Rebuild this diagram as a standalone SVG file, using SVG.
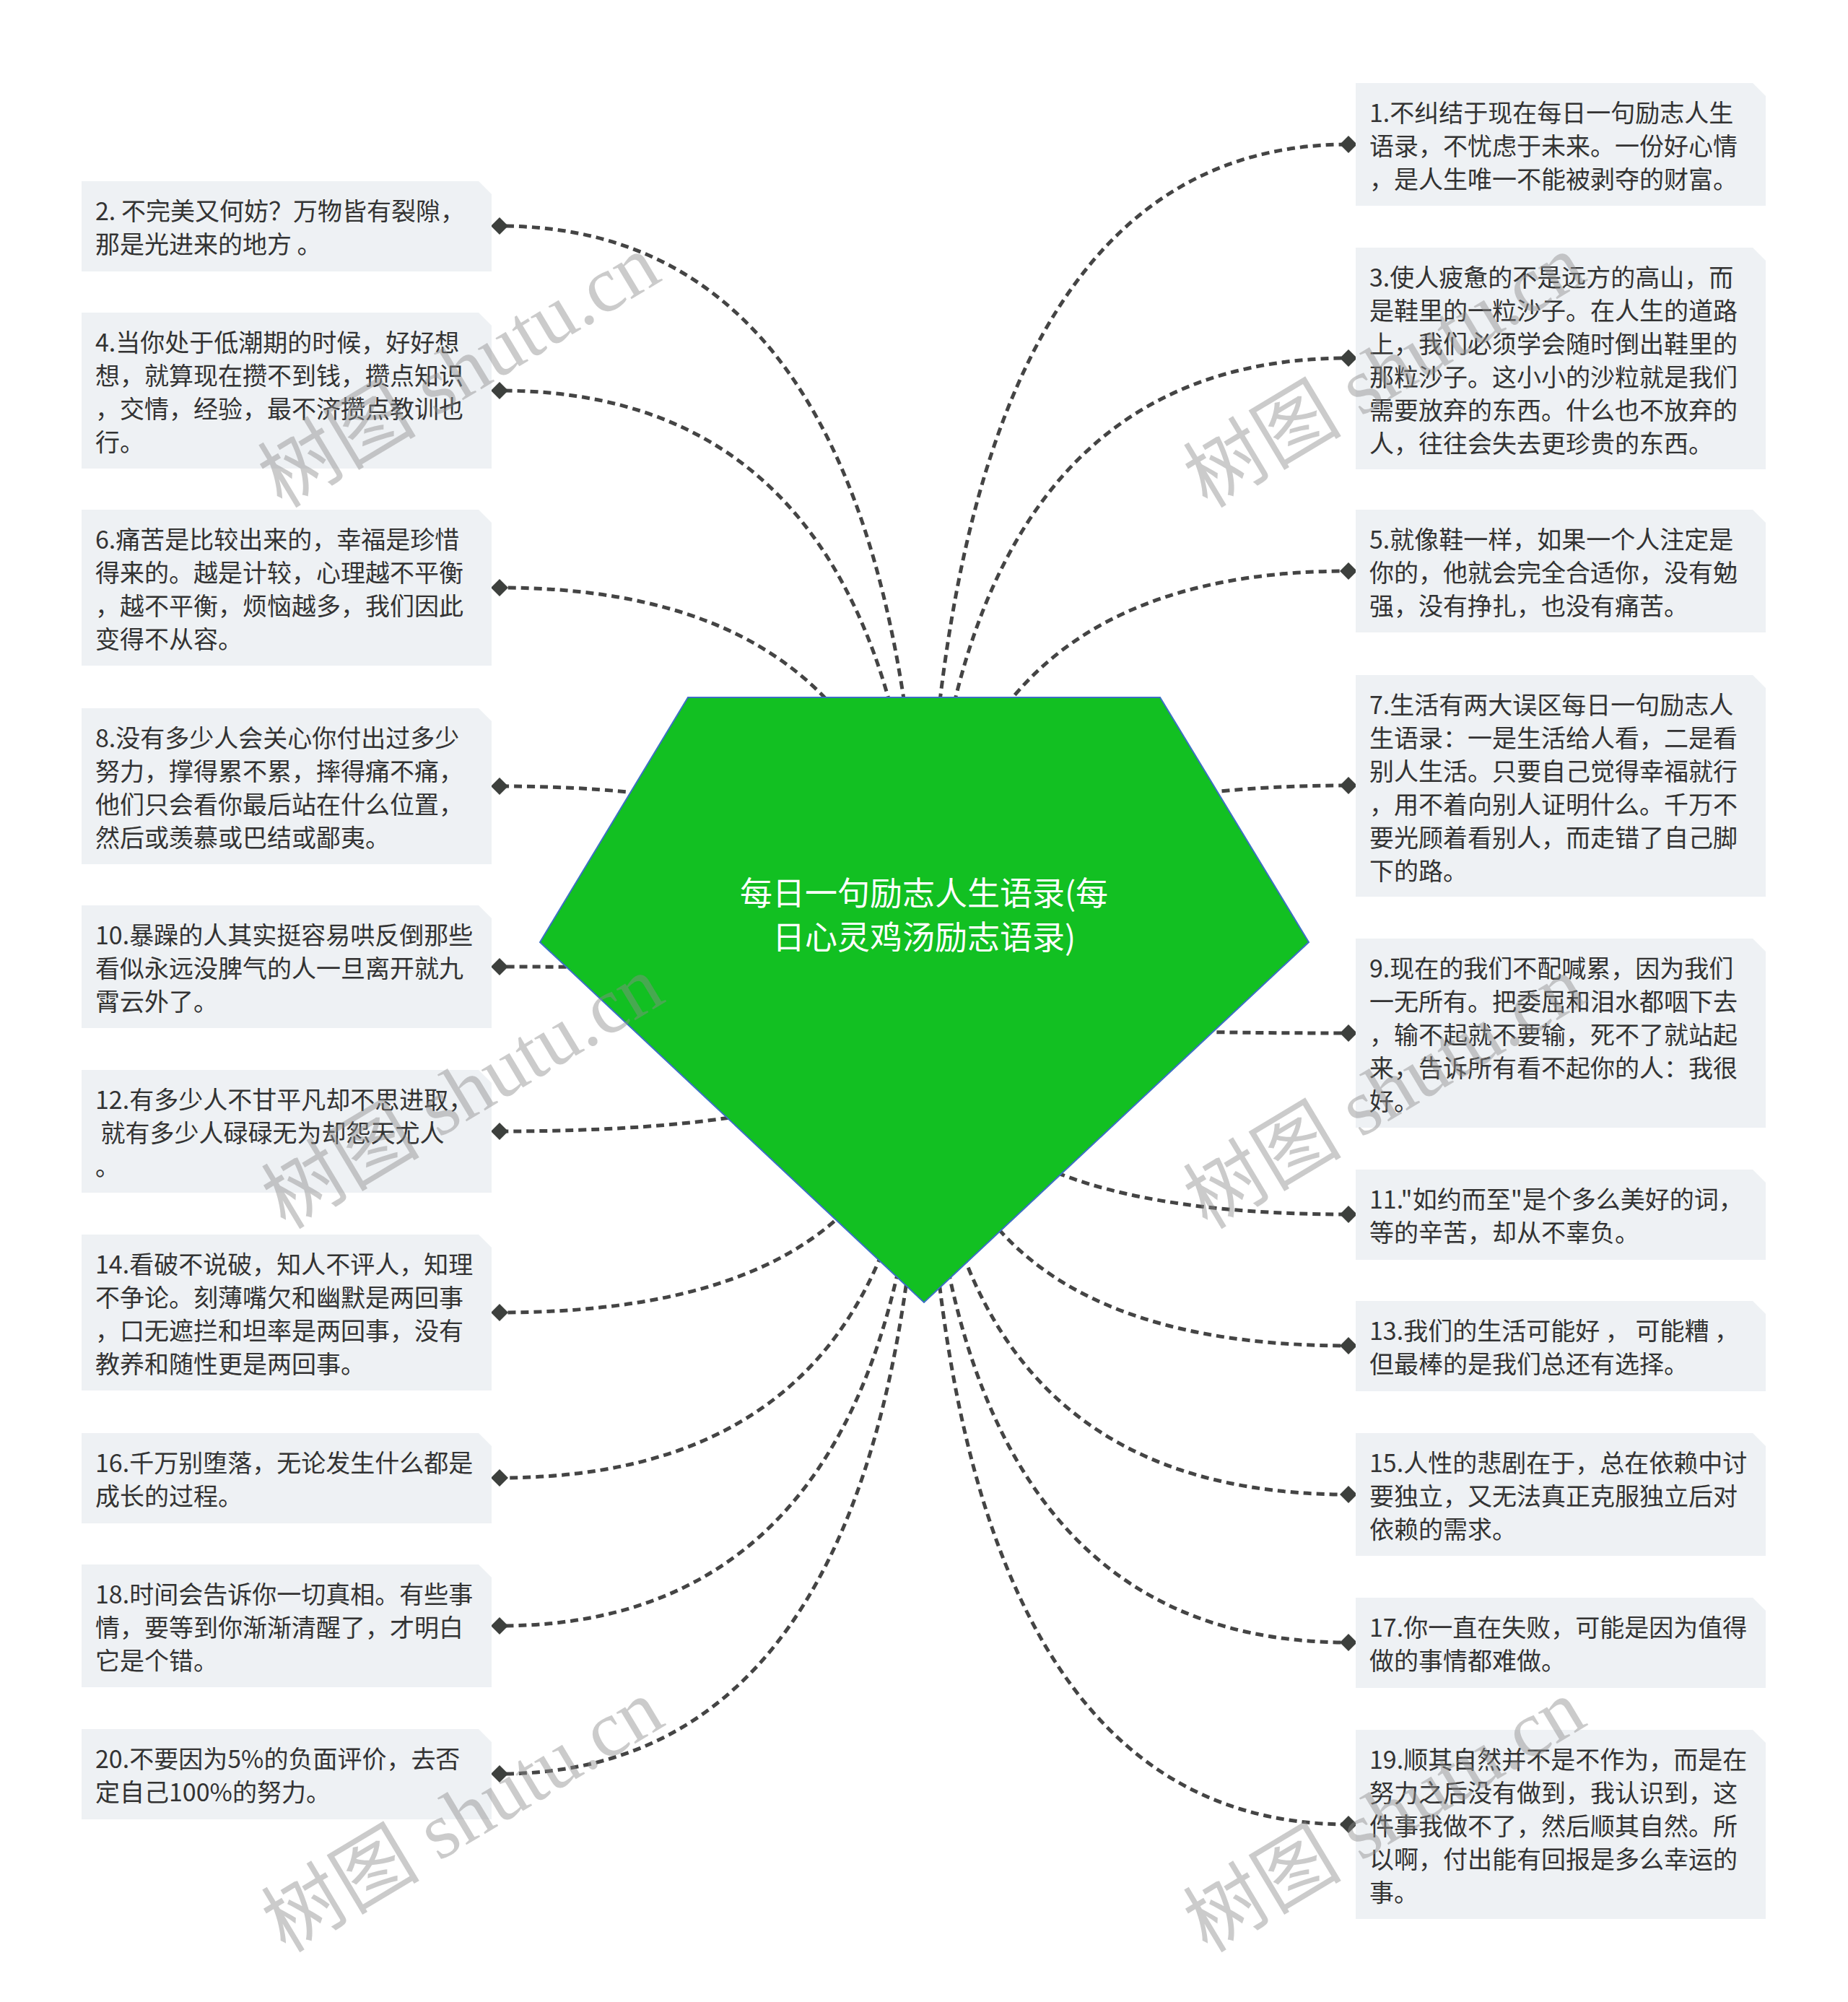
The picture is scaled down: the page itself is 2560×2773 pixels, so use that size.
<svg xmlns="http://www.w3.org/2000/svg" width="2560" height="2773" viewBox="0 0 2560 2773">
<defs>
<style>
.box{fill:#eef1f4}
.t{font-family:"Noto Sans CJK SC","Noto Sans",sans-serif;font-size:34px;fill:#333333}
.link{fill:none;stroke:#444444;stroke-width:5;stroke-dasharray:11 7}
.title{font-family:"Noto Sans CJK SC","Noto Sans",sans-serif;font-size:45px;fill:#ffffff;text-anchor:middle}
.wm{font-family:"Liberation Serif","Noto Sans CJK SC",serif;font-size:110px;fill:#8c8c8c;fill-opacity:0.45;text-anchor:middle}
</style>
<marker id="dia" viewBox="0 0 24 24" refX="12" refY="12" markerWidth="24" markerHeight="24" markerUnits="userSpaceOnUse" orient="auto">
<path d="M0 12 L12 0 L24 12 L12 24 Z" fill="#3d403d"/>
</marker>
</defs>
<rect width="2560" height="2773" fill="#ffffff"/>
<g id="connectors">
<path class="link" marker-end="url(#dia)" d="M1280 1385 Q1280 313 692 313"/>
<path class="link" marker-end="url(#dia)" d="M1280 1385 Q1280 541 692 541"/>
<path class="link" marker-end="url(#dia)" d="M1280 1385 Q1280 814 692 814"/>
<path class="link" marker-end="url(#dia)" d="M1280 1385 Q1280 1089 692 1089"/>
<path class="link" marker-end="url(#dia)" d="M1280 1385 Q1280 1339 692 1339"/>
<path class="link" marker-end="url(#dia)" d="M1280 1385 Q1280 1567 692 1567"/>
<path class="link" marker-end="url(#dia)" d="M1280 1385 Q1280 1818 692 1818"/>
<path class="link" marker-end="url(#dia)" d="M1280 1385 Q1280 2047 692 2047"/>
<path class="link" marker-end="url(#dia)" d="M1280 1385 Q1280 2252 692 2252"/>
<path class="link" marker-end="url(#dia)" d="M1280 1385 Q1280 2457 692 2457"/>
<path class="link" marker-end="url(#dia)" d="M1280 1385 Q1280 200 1868 200"/>
<path class="link" marker-end="url(#dia)" d="M1280 1385 Q1280 496 1868 496"/>
<path class="link" marker-end="url(#dia)" d="M1280 1385 Q1280 791 1868 791"/>
<path class="link" marker-end="url(#dia)" d="M1280 1385 Q1280 1088 1868 1088"/>
<path class="link" marker-end="url(#dia)" d="M1280 1385 Q1280 1431 1868 1431"/>
<path class="link" marker-end="url(#dia)" d="M1280 1385 Q1280 1682 1868 1682"/>
<path class="link" marker-end="url(#dia)" d="M1280 1385 Q1280 1864 1868 1864"/>
<path class="link" marker-end="url(#dia)" d="M1280 1385 Q1280 2070 1868 2070"/>
<path class="link" marker-end="url(#dia)" d="M1280 1385 Q1280 2275 1868 2275"/>
<path class="link" marker-end="url(#dia)" d="M1280 1385 Q1280 2527 1868 2527"/>
</g>
<g id="center">
<polygon points="953,966 1607,966 1813,1305 1280,1804 748,1305" fill="#12c022" stroke="#3b6fc4" stroke-width="2"/>
<text class="title" x="1280" y="1254">每日一句励志人生语录(每</text>
<text class="title" x="1280" y="1315">日心灵鸡汤励志语录)</text>
</g>
<g id="node-2">
<polygon class="box" points="113,251 663,251 681,269 681,376 113,376"/>
<text class="t" x="132" y="305"><tspan x="132">2. 不完美又何妨？万物皆有裂隙，</tspan><tspan x="132" dy="46">那是光进来的地方 。</tspan></text>
</g>
<g id="node-4">
<polygon class="box" points="113,433 663,433 681,451 681,649 113,649"/>
<text class="t" x="132" y="487"><tspan x="132">4.当你处于低潮期的时候，好好想</tspan><tspan x="132" dy="46">想，就算现在攒不到钱，攒点知识</tspan><tspan x="132" dy="46">，交情，经验，最不济攒点教训也</tspan><tspan x="132" dy="46">行。</tspan></text>
</g>
<g id="node-6">
<polygon class="box" points="113,706 663,706 681,724 681,922 113,922"/>
<text class="t" x="132" y="760"><tspan x="132">6.痛苦是比较出来的，幸福是珍惜</tspan><tspan x="132" dy="46">得来的。越是计较，心理越不平衡</tspan><tspan x="132" dy="46">，越不平衡，烦恼越多，我们因此</tspan><tspan x="132" dy="46">变得不从容。</tspan></text>
</g>
<g id="node-8">
<polygon class="box" points="113,981 663,981 681,999 681,1197 113,1197"/>
<text class="t" x="132" y="1035"><tspan x="132">8.没有多少人会关心你付出过多少</tspan><tspan x="132" dy="46">努力，撑得累不累，摔得痛不痛，</tspan><tspan x="132" dy="46">他们只会看你最后站在什么位置，</tspan><tspan x="132" dy="46">然后或羡慕或巴结或鄙夷。</tspan></text>
</g>
<g id="node-10">
<polygon class="box" points="113,1254 663,1254 681,1272 681,1424 113,1424"/>
<text class="t" x="132" y="1308"><tspan x="132">10.暴躁的人其实挺容易哄反倒那些</tspan><tspan x="132" dy="46">看似永远没脾气的人一旦离开就九</tspan><tspan x="132" dy="46">霄云外了。</tspan></text>
</g>
<g id="node-12">
<polygon class="box" points="113,1482 663,1482 681,1500 681,1652 113,1652"/>
<text class="t" x="132" y="1536" xml:space="preserve"><tspan x="132">12.有多少人不甘平凡却不思进取，</tspan><tspan x="132" dy="46"> 就有多少人碌碌无为却怨天尤人</tspan><tspan x="132" dy="46">。</tspan></text>
</g>
<g id="node-14">
<polygon class="box" points="113,1710 663,1710 681,1728 681,1926 113,1926"/>
<text class="t" x="132" y="1764"><tspan x="132">14.看破不说破，知人不评人，知理</tspan><tspan x="132" dy="46">不争论。刻薄嘴欠和幽默是两回事</tspan><tspan x="132" dy="46">，口无遮拦和坦率是两回事，没有</tspan><tspan x="132" dy="46">教养和随性更是两回事。</tspan></text>
</g>
<g id="node-16">
<polygon class="box" points="113,1985 663,1985 681,2003 681,2110 113,2110"/>
<text class="t" x="132" y="2039"><tspan x="132">16.千万别堕落，无论发生什么都是</tspan><tspan x="132" dy="46">成长的过程。</tspan></text>
</g>
<g id="node-18">
<polygon class="box" points="113,2167 663,2167 681,2185 681,2337 113,2337"/>
<text class="t" x="132" y="2221"><tspan x="132">18.时间会告诉你一切真相。有些事</tspan><tspan x="132" dy="46">情，要等到你渐渐清醒了，才明白</tspan><tspan x="132" dy="46">它是个错。</tspan></text>
</g>
<g id="node-20">
<polygon class="box" points="113,2395 663,2395 681,2413 681,2520 113,2520"/>
<text class="t" x="132" y="2449"><tspan x="132">20.不要因为5%的负面评价，去否</tspan><tspan x="132" dy="46">定自己100%的努力。</tspan></text>
</g>
<g id="node-1">
<polygon class="box" points="1878,115 2428,115 2446,133 2446,285 1878,285"/>
<text class="t" x="1897" y="169"><tspan x="1897">1.不纠结于现在每日一句励志人生</tspan><tspan x="1897" dy="46">语录，不忧虑于未来。一份好心情</tspan><tspan x="1897" dy="46">，是人生唯一不能被剥夺的财富。</tspan></text>
</g>
<g id="node-3">
<polygon class="box" points="1878,343 2428,343 2446,361 2446,650 1878,650"/>
<text class="t" x="1897" y="397"><tspan x="1897">3.使人疲惫的不是远方的高山，而</tspan><tspan x="1897" dy="46">是鞋里的一粒沙子。在人生的道路</tspan><tspan x="1897" dy="46">上，我们必须学会随时倒出鞋里的</tspan><tspan x="1897" dy="46">那粒沙子。这小小的沙粒就是我们</tspan><tspan x="1897" dy="46">需要放弃的东西。什么也不放弃的</tspan><tspan x="1897" dy="46">人，往往会失去更珍贵的东西。</tspan></text>
</g>
<g id="node-5">
<polygon class="box" points="1878,706 2428,706 2446,724 2446,876 1878,876"/>
<text class="t" x="1897" y="760"><tspan x="1897">5.就像鞋一样，如果一个人注定是</tspan><tspan x="1897" dy="46">你的，他就会完全合适你，没有勉</tspan><tspan x="1897" dy="46">强，没有挣扎，也没有痛苦。</tspan></text>
</g>
<g id="node-7">
<polygon class="box" points="1878,935 2428,935 2446,953 2446,1242 1878,1242"/>
<text class="t" x="1897" y="989"><tspan x="1897">7.生活有两大误区每日一句励志人</tspan><tspan x="1897" dy="46">生语录：一是生活给人看，二是看</tspan><tspan x="1897" dy="46">别人生活。只要自己觉得幸福就行</tspan><tspan x="1897" dy="46">，用不着向别人证明什么。千万不</tspan><tspan x="1897" dy="46">要光顾着看别人，而走错了自己脚</tspan><tspan x="1897" dy="46">下的路。</tspan></text>
</g>
<g id="node-9">
<polygon class="box" points="1878,1300 2428,1300 2446,1318 2446,1562 1878,1562"/>
<text class="t" x="1897" y="1354"><tspan x="1897">9.现在的我们不配喊累，因为我们</tspan><tspan x="1897" dy="46">一无所有。把委屈和泪水都咽下去</tspan><tspan x="1897" dy="46">，输不起就不要输，死不了就站起</tspan><tspan x="1897" dy="46">来，告诉所有看不起你的人：我很</tspan><tspan x="1897" dy="46">好。</tspan></text>
</g>
<g id="node-11">
<polygon class="box" points="1878,1620 2428,1620 2446,1638 2446,1745 1878,1745"/>
<text class="t" x="1897" y="1674"><tspan x="1897">11."如约而至"是个多么美好的词，</tspan><tspan x="1897" dy="46">等的辛苦，却从不辜负。</tspan></text>
</g>
<g id="node-13">
<polygon class="box" points="1878,1802 2428,1802 2446,1820 2446,1927 1878,1927"/>
<text class="t" x="1897" y="1856" xml:space="preserve"><tspan x="1897">13.我们的生活可能好 ， 可能糟 ，</tspan><tspan x="1897" dy="46">但最棒的是我们总还有选择。</tspan></text>
</g>
<g id="node-15">
<polygon class="box" points="1878,1985 2428,1985 2446,2003 2446,2155 1878,2155"/>
<text class="t" x="1897" y="2039"><tspan x="1897">15.人性的悲剧在于，总在依赖中讨</tspan><tspan x="1897" dy="46">要独立，又无法真正克服独立后对</tspan><tspan x="1897" dy="46">依赖的需求。</tspan></text>
</g>
<g id="node-17">
<polygon class="box" points="1878,2213 2428,2213 2446,2231 2446,2338 1878,2338"/>
<text class="t" x="1897" y="2267"><tspan x="1897">17.你一直在失败，可能是因为值得</tspan><tspan x="1897" dy="46">做的事情都难做。</tspan></text>
</g>
<g id="node-19">
<polygon class="box" points="1878,2396 2428,2396 2446,2414 2446,2658 1878,2658"/>
<text class="t" x="1897" y="2450"><tspan x="1897">19.顺其自然并不是不作为，而是在</tspan><tspan x="1897" dy="46">努力之后没有做到，我认识到，这</tspan><tspan x="1897" dy="46">件事我做不了，然后顺其自然。所</tspan><tspan x="1897" dy="46">以啊，付出能有回报是多么幸运的</tspan><tspan x="1897" dy="46">事。</tspan></text>
</g>
<g id="watermarks">
<text class="wm" transform="translate(655,546) rotate(-31)">树图 shutu.cn</text>
<text class="wm" transform="translate(660,1545) rotate(-31)">树图 shutu.cn</text>
<text class="wm" transform="translate(660,2547) rotate(-31)">树图 shutu.cn</text>
<text class="wm" transform="translate(1937,546) rotate(-31)">树图 shutu.cn</text>
<text class="wm" transform="translate(1937,1545) rotate(-31)">树图 shutu.cn</text>
<text class="wm" transform="translate(1937,2547) rotate(-31)">树图 shutu.cn</text>
</g>
</svg>
